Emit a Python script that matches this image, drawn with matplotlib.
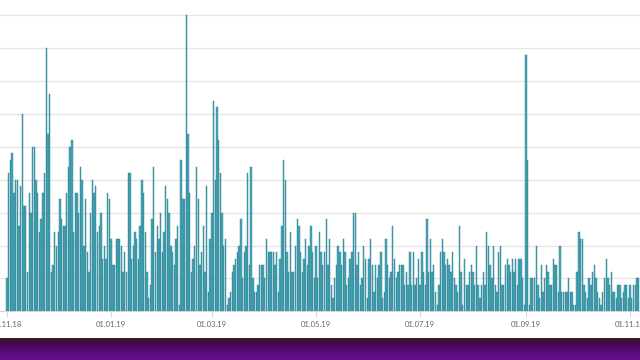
import numpy as np
import pandas as pd
import matplotlib
matplotlib.use('Agg')
import matplotlib.pyplot as plt
import matplotlib.colors as mcolors

# daily counts (one value per day starting 01.11.18)
start_date = '2018-11-01'
counts_nov_feb = [5, 21, 23, 24, 18, 20, 20, 13, 19, 30, 16, 16, 6, 18, 15, 25, 25, 20, 18, 12,
                  14, 18, 21, 40, 27, 33, 6, 7, 12, 10, 12, 17, 14, 13, 13, 18, 22, 25, 26, 12,
                  18, 18, 15, 22, 20, 10, 17, 9, 6, 15, 20, 18, 19, 12, 13, 15, 8, 10, 8, 18,
                  17, 11, 7, 7, 11, 11, 11, 10, 6, 9, 6, 21, 21, 8, 10, 12, 11, 8, 13, 20,
                  18, 12, 6, 2, 4, 14, 22, 9, 13, 11, 15, 9, 12, 19, 17, 15, 10, 9, 7, 11,
                  13, 1, 23, 17, 17, 45, 27, 18, 6, 8, 10, 22, 17, 7, 9, 13, 6, 19, 3, 11,
                  15, 32, 20, 31, 26]
counts_mar_jun = [21, 15, 10, 11, 1, 2, 3, 6, 7, 8, 9, 10, 14, 5, 9, 10, 21, 7, 22, 5,
                  3, 3, 4, 7, 7, 7, 5, 11, 9, 9, 9, 9, 7, 9, 3, 8, 13, 23, 20, 9,
                  6, 12, 6, 6, 10, 14, 13, 9, 6, 8, 11, 7, 10, 13, 9, 5, 10, 5, 12, 9,
                  7, 9, 14, 7, 11, 4, 2, 5, 7, 10, 9, 7, 11, 9, 4, 5, 8, 9, 15, 15,
                  7, 9, 4, 5, 10, 8, 2, 8, 11, 7, 3, 7, 5, 7, 9, 2, 3, 11, 7, 5,
                  6, 13, 8, 5, 6, 7, 7, 7, 4, 6, 4, 9, 4, 9, 4, 5, 8]
counts_jul_nov = [4, 9, 6, 4, 14, 6, 11, 6, 7, 3, 1, 4, 9, 11, 9, 7, 8, 7, 6, 9,
                  5, 4, 3, 13, 6, 1, 8, 4, 4, 6, 7, 6, 4, 10, 4, 2, 4, 6, 4, 12,
                  10, 7, 5, 10, 4, 3, 9, 10, 4, 4, 7, 8, 7, 6, 8, 6, 8, 4, 8, 8,
                  5, 1, 39, 23, 1, 5, 5, 5, 10, 4, 2, 7, 3, 5, 7, 6, 4, 4, 8, 7,
                  7, 3, 10, 3, 3, 3, 3, 5, 3, 3, 1, 1, 6, 12, 11, 11, 4, 3, 2, 5,
                  4, 6, 7, 5, 3, 2, 1, 3, 5, 8, 5, 4, 6, 3, 3, 2, 4, 4, 2, 3,
                  4, 4, 2, 4, 2, 4, 4, 5, 5]

tick_dates = ['2018-11-01', '2019-01-01', '2019-03-01', '2019-05-01',
              '2019-07-01', '2019-09-01', '2019-11-01']
tick_labels = ['01.11.18', '01.01.19', '01.03.19', '01.05.19',
               '01.07.19', '01.09.19', '01.11.19']

values = counts_nov_feb + counts_mar_jun + counts_jul_nov
days = pd.date_range(start_date, periods=len(values), freq='D')

fig = plt.figure(figsize=(6.4, 3.6), dpi=100)
fig.patch.set_facecolor('white')

ax = fig.add_axes([0, 0.135, 1, 0.865])
ax.bar(days, values, width=0.8, color='#46a7b7', edgecolor='#2c7e8e', linewidth=0.3)

t0 = pd.Timestamp(start_date)
ax.set_xlim(t0 - pd.Timedelta(days=4.1), t0 + pd.Timedelta(days=370.8))
ax.set_ylim(0, 47.3)

ax.set_yticks(range(5, 50, 5))
ax.yaxis.grid(True, color='#e6e6e6', linewidth=1)
ax.set_axisbelow(True)
ax.tick_params(axis='y', left=False, labelleft=False)

for s in ['top', 'left', 'right']:
    ax.spines[s].set_visible(False)
ax.spines['bottom'].set_color('#d6d6d6')

ax.set_xticks(pd.to_datetime(tick_dates))
ax.set_xticklabels(tick_labels, fontsize=5.5, color='#666666', family='Lato')
ax.tick_params(axis='x', length=4, color='#d6d6d6', pad=3)

# purple strip at the bottom of the screenshot
bax = fig.add_axes([0, 0, 1, 22 / 360])
cmap = mcolors.LinearSegmentedColormap.from_list(
    'band', [(0, '#4a1a1c'), (0.15, '#3e0c46'), (0.5, '#520a6e'), (1, '#6a0e90')])
grad = np.linspace(0, 1, 50).reshape(-1, 1)
bax.imshow(grad, aspect='auto', cmap=cmap, extent=[0, 1, 1, 0])
bax.set_axis_off()

fig.savefig('out.png', dpi=100)
